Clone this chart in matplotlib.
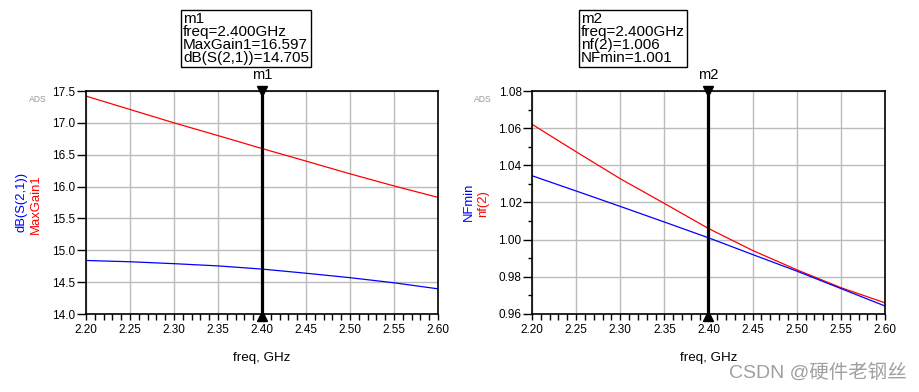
import numpy as np
import matplotlib.pyplot as plt
from matplotlib.ticker import MultipleLocator

plt.rcParams["font.family"] = ["Liberation Sans", "Noto Sans CJK SC", "DejaVu Sans"]

freq = [2.20, 2.25, 2.30, 2.35, 2.40, 2.45, 2.50, 2.55, 2.60]

# left plot: gain
max_gain = [17.42, 17.21, 17.00, 16.80, 16.597, 16.40, 16.20, 16.01, 15.83]
db_s21 = [14.84, 14.82, 14.79, 14.755, 14.705, 14.64, 14.57, 14.49, 14.395]

# right plot: noise figure
nf2 = [1.0621, 1.0473, 1.0328, 1.0195, 1.006, 0.9942, 0.9838, 0.9742, 0.966]
nfmin = [1.0344, 1.0262, 1.0179, 1.0095, 1.001, 0.9920, 0.9831, 0.9737, 0.9643]

marker_freq = 2.40
m1_text = "m1\nfreq=2.400GHz\nMaxGain1=16.597\ndB(S(2,1))=14.705"
m2_text = "m2\nfreq=2.400GHz\nnf(2)=1.006\nNFmin=1.001"

fig = plt.figure(figsize=(9.19, 3.92), dpi=100)
ax1 = fig.add_axes([86 / 919, 1 - 314 / 392, 352 / 919, 223 / 392])
ax2 = fig.add_axes([532 / 919, 1 - 314 / 392, 353 / 919, 223 / 392])


def style_axes(ax, ylim, ystep, yminor=None):
    ax.set_xlim(2.2, 2.6)
    ax.set_ylim(*ylim)
    ax.xaxis.set_major_locator(MultipleLocator(0.05))
    ax.xaxis.set_minor_locator(MultipleLocator(0.01))
    ax.yaxis.set_major_locator(MultipleLocator(ystep))
    if yminor:
        ax.yaxis.set_minor_locator(MultipleLocator(yminor))
    ax.grid(True, which="major", color="#bcbcbc", linewidth=1.0)
    ax.set_axisbelow(True)
    ax.tick_params(axis="x", which="both", direction="out", length=4.5,
                   width=1.0, labelsize=8.5, pad=3)
    ax.tick_params(axis="y", which="major", direction="out", length=6.5,
                   width=1.0, labelsize=8.5, pad=1)
    ax.tick_params(axis="y", which="minor", direction="out", length=3,
                   width=1.0)
    for s in ax.spines.values():
        s.set_linewidth(1.2)
    ax.set_xlabel("freq, GHz", fontsize=9.6, labelpad=11)
    ax.text(-0.138, 0.964, "ADS", transform=ax.transAxes, fontsize=6.2,
            color="#999999", ha="center", va="center")


def draw_marker(ax, name):
    ax.axvline(marker_freq, color="black", linewidth=2.3, zorder=5)
    ax.plot([marker_freq], [1.0], marker="v", color="black", markersize=7,
            transform=ax.get_xaxis_transform(), clip_on=False, zorder=6)
    ax.plot([marker_freq], [-0.01], marker="^", color="black", markersize=7,
            transform=ax.get_xaxis_transform(), clip_on=False, zorder=6)
    ax.text(marker_freq, 1.04, name, transform=ax.get_xaxis_transform(),
            ha="center", va="bottom", fontsize=10.5, zorder=12)


# left
ax1.plot(freq, max_gain, color="red", linewidth=0.9)
ax1.plot(freq, db_s21, color="blue", linewidth=0.9)
style_axes(ax1, (14.0, 17.5), 0.5)
ax1.yaxis.set_major_formatter(plt.FormatStrFormatter("%.1f"))
ax1.xaxis.set_major_formatter(plt.FormatStrFormatter("%.2f"))
draw_marker(ax1, "m1")
fig.text(22 / 919, 1 - 201.5 / 392, "dB(S(2,1))", color="blue", rotation=90,
         ha="center", va="center", fontsize=9.4)
fig.text(36 / 919, 1 - 204 / 392, "MaxGain1", color="red", rotation=90,
         ha="center", va="center", fontsize=9.4)

# right
ax2.plot(freq, nf2, color="red", linewidth=0.9)
ax2.plot(freq, nfmin, color="blue", linewidth=0.9)
style_axes(ax2, (0.96, 1.08), 0.02, 0.01)
ax2.yaxis.set_major_formatter(plt.FormatStrFormatter("%.2f"))
ax2.xaxis.set_major_formatter(plt.FormatStrFormatter("%.2f"))
draw_marker(ax2, "m2")
fig.text(469 / 919, 1 - 202 / 392, "NFmin", color="blue", rotation=90,
         ha="center", va="center", fontsize=9.4)
fig.text(483 / 919, 1 - 203.5 / 392, "nf(2)", color="red", rotation=90,
         ha="center", va="center", fontsize=9.4)

# marker readout boxes
box = dict(boxstyle="square,pad=0.12", facecolor="white", edgecolor="black",
           linewidth=1.0)
fig.text(183 / 919, 1 - 12 / 392, m1_text, ha="left", va="top", fontsize=11,
         linespacing=0.92, bbox=box, zorder=10)
fig.text(581 / 919, 1 - 12 / 392, m2_text, ha="left", va="top", fontsize=11,
         linespacing=0.92, bbox=box, zorder=10)

fig.text(907 / 919, 1 - 373 / 392, "CSDN @硬件老钢丝", ha="right", va="center",
         fontsize=14, color="#a0a0a0")

fig.savefig("out.png", dpi=100)
